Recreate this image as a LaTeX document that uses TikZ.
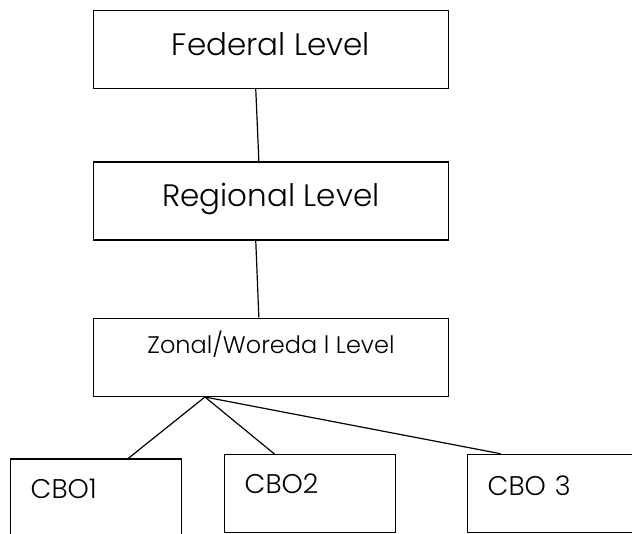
\documentclass[tikz,border=0pt]{standalone}
\usepackage{fontspec}
\setmainfont{Poppins}[UprightFont=* Light]

\begin{document}
\begin{tikzpicture}[x=1pt,y=-1pt,
  level/.style={draw,line width=1.4pt,minimum width=355pt,minimum height=78pt,font=\fontsize{31}{36}\selectfont},
  cbo/.style={draw,line width=1.4pt,anchor=north west,minimum width=171pt,text width=131pt,align=left,inner sep=0pt,text height=39pt,text depth=39pt,font=\fontsize{27}{32}\selectfont}]
\useasboundingbox (0,0) rectangle (632,533);
\node[level,text height=22pt,text depth=11pt] (fed) at (271,49.5) {Federal Level};
\node[level,text height=22pt,text depth=12pt] (reg) at (271,201) {Regional Level};
\node[level,text height=17pt,text depth=24pt,font=\fontsize{24}{29}\selectfont] (zon) at (271,357.3) {Zonal/Woreda l Level};
\node[cbo] (cbo1) at (10,458.3) {CBO1};
\node[cbo] (cbo2) at (224,454) {CBO2};
\node[cbo,text height=41pt,text depth=37pt] (cbo3) at (467,453.7) {CBO 3};
\draw[line width=1.2pt] (fed.249) -- (reg.107);
\draw[line width=1.2pt] (reg.249) -- (zon.107);
\draw[line width=1.2pt] (zon.211.7) -- (cbo1.51.3);
\draw[line width=1.2pt] (zon.211.7) -- (cbo2.132.3);
\draw[line width=1.2pt] (zon.211.7) -- (cbo3.143.8);
\end{tikzpicture}
\end{document}
